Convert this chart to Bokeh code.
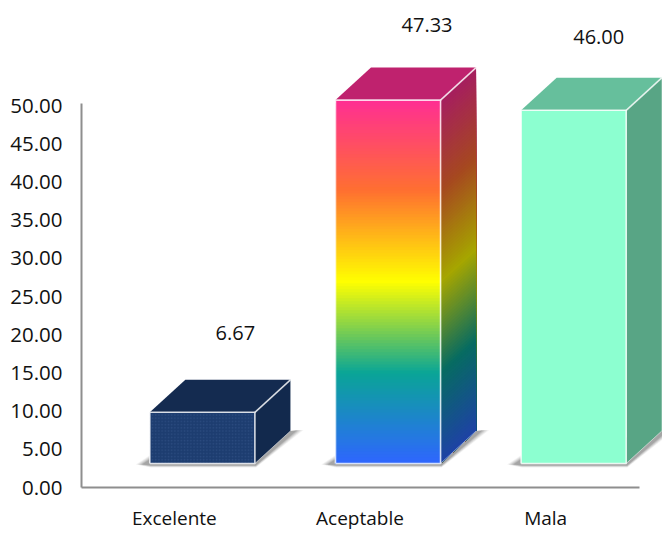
from bokeh.core.properties import value
from bokeh.embed import file_html
from bokeh.models import FixedTicker, NumeralTickFormatter, Range1d
from bokeh.plotting import figure
from bokeh.resources import INLINE

# Chart data
CATEGORIES = ["Excelente", "Aceptable", "Mala"]
VALUES = [6.67, 47.33, 46.00]
Y_TICKS = [0, 5, 10, 15, 20, 25, 30, 35, 40, 45, 50]

# Page and scale geometry, in screen pixels
WIDTH, HEIGHT = 662, 533
FRAME_LEFT, FRAME_BOTTOM = 81.5, 46
PX_PER_UNIT_Y = 7.64
PX_PER_CAT = 185.5
FONT = "Open Sans"
FONT_SIZE = "20px"
CATEGORY_FONT_SIZE = "19px"
TICK_FONT_SIZE = "20.5px"

# Box geometry
FACE_W = 105
DEPTH_X, DEPTH_Y = 35.5, 32.5
FLOOR_PX = 24
FACE_LEFT_OFFSET = -24.5
HEIGHT_GAIN = 1.005

# Value label placement relative to each box
LABEL_DX = [33, 39, 25]
LABEL_LIFT = [79, 75, 73]

# Face colours
GRADIENT = ["#FF2E93", "#FF7030", "#FFFF00", "#0AA596", "#2F66FF"]
SIDE_SHADE = 0.65
TOP_SHADE = 0.75
NAVY = dict(front="#1D3D70", side="#12294D", top="#142B50")
MINT = dict(front="#8CFFD0", side="#58A585", top="#66BF9C")

def dx(px):
    return px / PX_PER_CAT

def dy(px):
    return px / PX_PER_UNIT_Y

def hex_rgb(c):
    return tuple(int(c[i:i + 2], 16) for i in (1, 3, 5))

def gradient_at(t, shade=1.0):
    pos = min(max(t, 0.0), 1.0) * (len(GRADIENT) - 1)
    i = min(int(pos), len(GRADIENT) - 2)
    f = pos - i
    a, b = hex_rgb(GRADIENT[i]), hex_rgb(GRADIENT[i + 1])
    return "#%02x%02x%02x" % tuple(round((a[k] + (b[k] - a[k]) * f) * shade) for k in range(3))

p = figure(
    width=WIDTH, height=HEIGHT, output_backend="svg", toolbar_location=None,
    min_border_left=int(FRAME_LEFT), min_border_right=0, min_border_top=0, min_border_bottom=FRAME_BOTTOM,
    x_range=Range1d(-0.5, -0.5 + (WIDTH - FRAME_LEFT) / PX_PER_CAT),
    y_range=Range1d(0, (HEIGHT - FRAME_BOTTOM) / PX_PER_UNIT_Y),
    background_fill_color="white", border_fill_color="white", outline_line_color=None,
)
p.grid.visible = False

for ax in (p.xaxis[0], p.yaxis[0]):
    ax.axis_line_color = "#8E8E8E"
    ax.axis_line_width = 2
    ax.major_tick_line_color = None
    ax.minor_tick_line_color = None
    ax.major_label_text_font = FONT
    ax.major_label_text_color = "#111111"

p.yaxis[0].ticker = FixedTicker(ticks=Y_TICKS)
p.yaxis[0].formatter = NumeralTickFormatter(format="0.00")
p.yaxis[0].bounds = (0, 50.3)
p.yaxis[0].major_label_standoff = 13
p.yaxis[0].major_label_text_font_size = TICK_FONT_SIZE
p.xaxis[0].ticker = FixedTicker(ticks=list(range(len(CATEGORIES))))
p.xaxis[0].major_label_overrides = {i: c for i, c in enumerate(CATEGORIES)}
p.xaxis[0].bounds = (-0.5, 2.505)
p.xaxis[0].major_label_standoff = 11
p.xaxis[0].major_label_text_font_size = CATEGORY_FONT_SIZE
p.xaxis[0].major_label_text_line_height = 1.0

floor = dy(FLOOR_PX)

def box_corners(i, v):
    left = i + dx(FACE_LEFT_OFFSET)
    right = left + dx(FACE_W)
    top = floor + v * HEIGHT_GAIN
    return left, right, top

def draw_shadow(left, right):
    # Stacked translucent outlines give the floor shadow a soft edge
    for grow, alpha in ((4, 0.08), (3, 0.10), (2, 0.12), (1, 0.16), (0, 0.22)):
        xs = [
            left - dx(8 + grow * 1.5), left + dx(1), right + dx(DEPTH_X), right + dx(DEPTH_X + 7 + grow * 1.5),
            right + dx(1), left + dx(1),
        ]
        ys = [
            floor - dy(1), floor + dy(5 + grow), floor + dy(DEPTH_Y), floor + dy(DEPTH_Y + 1),
            floor - dy(2 + grow * 0.5), floor - dy(2 + grow * 0.5),
        ]
        p.patch(xs, ys, fill_color="#555555", fill_alpha=alpha, line_color=None)

def draw_edges(left, right, top):
    edge = dict(line_color="white", line_alpha=0.8)
    p.line([left, left, right, right, left], [floor, top, top, floor, floor], line_width=1.6, **edge)
    p.line([right, right + dx(DEPTH_X)], [top, top + dy(DEPTH_Y)], line_width=1.6, **edge)
    p.line([right, right + dx(DEPTH_X)], [floor, floor + dy(DEPTH_Y)], line_width=1, line_color="white", line_alpha=0.5)

def draw_flat_box(i, v, colours, textured=False):
    left, right, top = box_corners(i, v)
    draw_shadow(left, right)
    ddx, ddy = dx(DEPTH_X), dy(DEPTH_Y)
    p.patch([left, left + ddx, right + ddx, right], [top, top + ddy, top + ddy, top],
            fill_color=colours["top"], line_color=None)
    p.patch([right, right + ddx, right + ddx, right], [floor, floor + ddy, top + ddy, top],
            fill_color=colours["side"], line_color=None)
    extra = dict(hatch_pattern="dot", hatch_color="#36588C", hatch_scale=3.2, hatch_alpha=0.55) if textured else {}
    p.quad(left=left, right=right, bottom=floor, top=top, fill_color=colours["front"], line_color=None, **extra)
    draw_edges(left, right, top)

def draw_gradient_box(i, v):
    left, right, top = box_corners(i, v)
    draw_shadow(left, right)
    ddx, ddy = dx(DEPTH_X), dy(DEPTH_Y)
    p.patch([left, left + ddx, right + ddx, right], [top, top + ddy, top + ddy, top],
            fill_color=gradient_at(0, TOP_SHADE), line_color=None)
    # Colour bands painted top to bottom; each reaches to the floor so no seams show
    bands = 121
    step = (top - floor) / bands
    for b in range(bands):
        y1 = top - b * step
        t = (b + 0.5) / bands
        side = gradient_at(t, SIDE_SHADE)
        front = gradient_at(t)
        p.patch([right, right + ddx, right + ddx, right], [floor, floor + ddy, y1 + ddy, y1],
                fill_color=side, line_color=None)
        p.quad(left=left, right=right, bottom=floor, top=y1, fill_color=front, line_color=None)
    draw_edges(left, right, top)

draw_flat_box(0, VALUES[0], NAVY, textured=True)
draw_gradient_box(1, VALUES[1])
draw_flat_box(2, VALUES[2], MINT)

p.text(
    x=[i + dx(FACE_LEFT_OFFSET + FACE_W / 2 + LABEL_DX[i]) for i in range(len(VALUES))],
    y=[floor + v * HEIGHT_GAIN + dy(LABEL_LIFT[i]) for i, v in enumerate(VALUES)],
    text=[f"{v:.2f}" for v in VALUES],
    text_font=value(FONT), text_font_size=FONT_SIZE, text_color="#111111",
    text_align="center", text_baseline="middle",
)

open("out.html", "w").write(file_html(p, INLINE))
